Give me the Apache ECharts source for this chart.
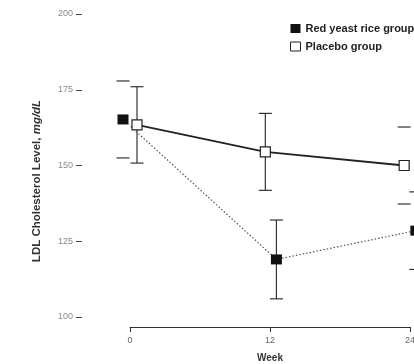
<!DOCTYPE html>
<html>
<head>
<meta charset="utf-8">
<script src="https://cdn.jsdelivr.net/npm/echarts@6/dist/echarts.min.js"></script>
<style>
  html, body { margin: 0; padding: 0; background: #fff; }
  #chart { width: 414px; height: 364px; }
</style>
</head>
<body>
<div id="chart"></div>
<script>
// weeks and values (mg/dL)
let weeks = [0, 12, 24];
let redMean = [165.2, 119.0, 128.5];
let redSd = [12.7, 13.0, 12.8];
let placeboMean = [163.4, 154.5, 150.0];
let placeboSd = [12.6, 12.7, 12.7];
let yTicks = [100, 125, 150, 175, 200];

// small horizontal shift so the two groups do not overlap (in weeks)
let redShift = [-0.6, 0.55, 0.5];
let placeboShift = [0.6, -0.4, -0.5];
// error bar stems that are not visible in the printed figure
let hiddenStem = {'red-0': true, 'red-2': true, 'placebo-2': true};

function points(mean, shift){
    return weeks.map((w,i)=>[w+shift[i], mean[i]]);
}
function bars(mean, sd, shift, key){
    return weeks.map((w,i)=>[w+shift[i], mean[i]-sd[i], mean[i]+sd[i], key+'-'+i]);
}

function renderBar(params, api){
    let x = api.value(0);
    let lo = api.coord([x, api.value(1)]);
    let hi = api.coord([x, api.value(2)]);
    let key = api.value(3);
    let half = 6.5;
    let style = {stroke: '#333', lineWidth: 1.2};
    let children = [
        {type: 'line', shape: {x1: hi[0]-half, y1: hi[1], x2: hi[0]+half, y2: hi[1]}, style: style},
        {type: 'line', shape: {x1: lo[0]-half, y1: lo[1], x2: lo[0]+half, y2: lo[1]}, style: style}
    ];
    if(!hiddenStem[key]){
        children.push({type: 'line', shape: {x1: hi[0], y1: hi[1], x2: lo[0], y2: lo[1]}, style: style});
    }
    return {type: 'group', children: children};
}

var myChart = echarts.init(document.getElementById('chart'));
let labelFont = 'Liberation Sans, Arial, sans-serif';
let option = {
    animation: false,
    backgroundColor: '#fff',
    grid: {
        left: 130,
        right: 4,
        top: 14,
        bottom: 47,
        containLabel: false,
        outerBoundsMode: 'none'
    },
    legend: {
        orient: 'vertical',
        left: 290,
        top: 23,
        padding: 0,
        itemWidth: 10,
        itemHeight: 9,
        itemGap: 7,
        textStyle: {fontFamily: labelFont, fontWeight: 'bold', fontSize: 11, color: '#222'},
        data: [
            {name: 'Red yeast rice group', icon: 'rect', itemStyle: {color: '#111', borderWidth: 0}},
            {name: 'Placebo group', icon: 'rect', itemStyle: {color: '#fff', borderColor: '#222', borderWidth: 1}}
        ]
    },
    xAxis: {
        type: 'value',
        min: 0,
        max: 24,
        interval: 12,
        offset: 10,
        splitLine: {show: false},
        axisLine: {onZero: false, lineStyle: {color: '#333', width: 1}},
        axisTick: {length: 5, lineStyle: {color: '#333'}},
        axisLabel: {fontFamily: labelFont, fontSize: 9, color: '#666', margin: 9},
        name: 'Week',
        nameLocation: 'middle',
        nameGap: 26,
        nameTextStyle: {fontFamily: labelFont, fontWeight: 'bold', fontSize: 10, color: '#333'}
    },
    yAxis: {
        type: 'value',
        min: yTicks[0],
        max: yTicks[yTicks.length-1],
        interval: 25,
        offset: 48,
        splitLine: {show: false},
        axisLine: {show: false, onZero: false},
        axisTick: {show: true, length: 6, lineStyle: {color: '#444'}},
        axisLabel: {fontFamily: labelFont, fontSize: 9, color: '#888', margin: 9}
    },
    graphic: [{
        type: 'text',
        x: 37,
        y: 181,
        rotation: Math.PI/2,
        style: {
            text: '{a|LDL Cholesterol Level, }{b|mg/dL}',
            align: 'center',
            verticalAlign: 'middle',
            rich: {
                a: {fontFamily: labelFont, fontWeight: 'bold', fontSize: 11.5, fill: '#333'},
                b: {fontFamily: labelFont, fontWeight: 'bold', fontStyle: 'italic', fontSize: 11.5, fill: '#333'}
            }
        }
    }],
    series: [
        {
            type: 'custom',
            name: 'bars',
            renderItem: renderBar,
            data: bars(redMean, redSd, redShift, 'red').concat(bars(placeboMean, placeboSd, placeboShift, 'placebo')),
            encode: {x: 0, y: [1, 2]},
            clip: false,
            z: 1,
            silent: true
        },
        {
            name: 'Red yeast rice group',
            type: 'line',
            data: points(redMean, redShift),
            clip: false,
            symbol: 'rect',
            symbolSize: [11, 10],
            itemStyle: {color: '#111', borderWidth: 0},
            lineStyle: {color: '#555', width: 1.2, type: [1.5, 2]},
            z: 2
        },
        {
            name: 'Placebo group',
            type: 'line',
            data: points(placeboMean, placeboShift),
            clip: false,
            symbol: 'rect',
            symbolSize: [10, 10],
            itemStyle: {color: '#fff', borderColor: '#222', borderWidth: 1.2},
            lineStyle: {color: '#222', width: 1.8},
            z: 3
        }
    ]
};
myChart.setOption(option);
</script>
</body>
</html>
